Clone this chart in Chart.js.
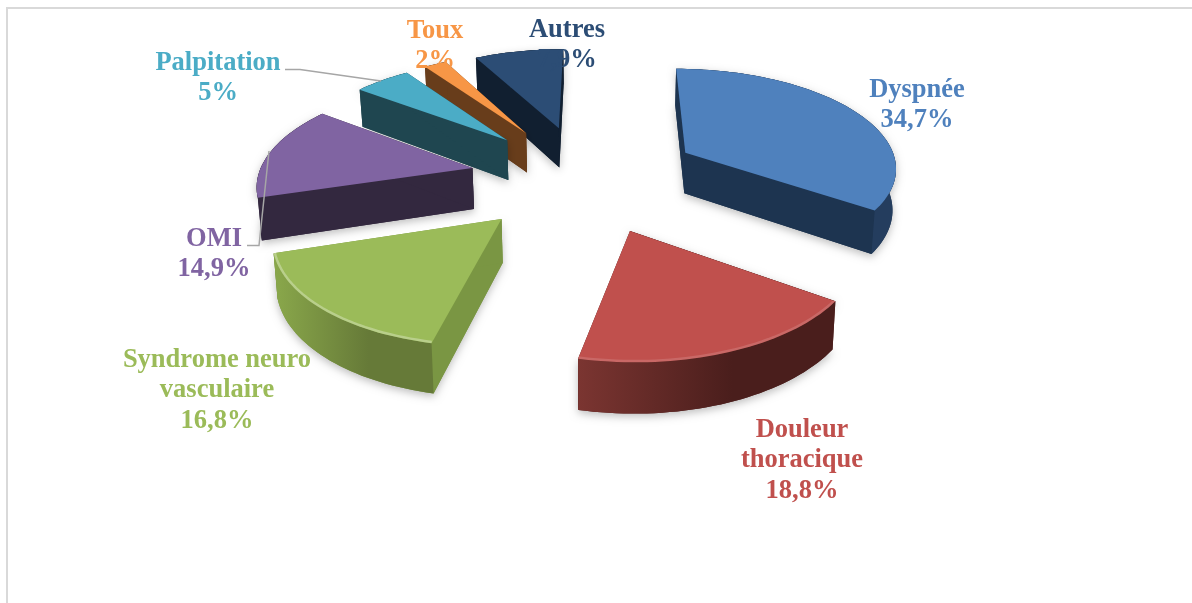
<!DOCTYPE html>
<html>
<head>
<meta charset="utf-8">
<title>Répartition des symptômes</title>
<style>
  html, body { margin: 0; padding: 0; background: #fff; overflow: hidden; }
  #frame { position: absolute; left: 6px; top: 7px; width: 1186px; height: 596px;
           border-top: 2px solid #d9d9d9; border-left: 2px solid #d9d9d9; box-sizing: border-box; }
  #chart { position: absolute; left: 0; top: 0; }
</style>
</head>
<body>
<div id="frame"></div>
<canvas id="chart" width="1192" height="603"></canvas>
<script src="https://cdn.jsdelivr.net/npm/chart.js@4"></script>
<script>
const categories = ['Dyspnée', 'Douleur thoracique', 'Syndrome neuro vasculaire', 'OMI', 'Palpitation', 'Toux', 'Autres'];
const percents = [34.7, 18.8, 16.8, 14.9, 5, 2, 7.9];

// how the long names wrap in the labels
const labelLines = [['Dyspnée'], ['Douleur', 'thoracique'], ['Syndrome neuro', 'vasculaire'], ['OMI'], ['Palpitation'], ['Toux'], ['Autres']];

// slice colours
const topColors = ['#4f81bd', '#c0504d', '#9bbb59', '#8064a2', '#4bacc6', '#f79646', '#2c4d75'];
const sideColors = ['#1d3450', '#4e1f1d', '#7a9643', '#33283f', '#1f4650', '#683d1b', '#111f30'];
const wallLeft = ['#1d3450', '#7b3531', '#8aa84b', '#33283f', '#1f4650', '#683d1b', '#111f30'];
const wallRight = ['#243d5e', '#4a1e1c', '#667a38', '#33283f', '#1f4650', '#683d1b', '#111f30'];
const rimLight = [0, 0.14, 0.3, 0, 0, 0, 0];

// explosion of each slice, and how far it leans off its middle angle (degrees)
const explode = [110, 115, 117, 115, 108, 106, 100];
const explodeLean = [5, 0, 0, -4, -5.5, -5, -3];

// label anchors (centre x, first line y)
const labelX = [917, 802, 217, 214, 218, 435, 567];
const labelY = [90, 430, 360, 239, 63, 31, 30];
const lineGap = 30.5;

// camera for the tilted look
const viewDist = 1600;
const horizon = 802;
const vanishX = 14;
const thickness = 41.5;
const stretchX = 1.045;
const stretchY = 0.97;
const sideLean = 0.012;

function project(el, px, py) {
  const s = viewDist / (viewDist - py);
  return {
    x: el.x + vanishX + (px - vanishX) * s,
    y: el.y - horizon + horizon * s,
    s: s,
    nadir: el.x + vanishX
  };
}

// outline of a slice in the flat pie plane, from the arc element chart.js laid out
function sliceGeometry(el, i) {
  const { startAngle, endAngle, outerRadius } = el.getProps(['startAngle', 'endAngle', 'outerRadius'], true);
  const mid = (startAngle + endAngle) / 2 + explodeLean[i] * Math.PI / 180;
  const off = el.options.offset;
  const ox = Math.cos(mid) * off;
  const oy = Math.sin(mid) * off;
  const arc = [];
  const steps = Math.max(4, Math.ceil((endAngle - startAngle) / 0.03));
  for (let k = 0; k <= steps; k++) {
    const a = startAngle + (endAngle - startAngle) * k / steps;
    const p = project(el, ox + Math.cos(a) * outerRadius * stretchX, oy + Math.sin(a) * outerRadius * stretchY);
    p.front = Math.sin(a) > 0.12;
    arc.push(p);
  }
  return { apex: project(el, ox, oy), arc: arc, depth: oy };
}

function poly(ctx, pts) {
  ctx.beginPath();
  pts.forEach((p, k) => k ? ctx.lineTo(p.x, p.y) : ctx.moveTo(p.x, p.y));
  ctx.closePath();
}

function lowered(p) {
  return { x: p.x - (p.x - p.nadir) * sideLean, y: p.y + thickness * p.s };
}

function drawSlice(ctx, g, i) {
  const last = g.arc[g.arc.length - 1];
  const first = g.arc[0];
  const startWall = [g.apex, first, lowered(first), lowered(g.apex)];
  const endWall = [g.apex, last, lowered(last), lowered(g.apex)];
  const outerWall = g.arc.concat(g.arc.slice().reverse().map(lowered));
  const topFace = [g.apex].concat(g.arc);

  // soft shadow first, once for the whole solid
  ctx.save();
  ctx.shadowColor = 'rgba(0,0,0,0.26)';
  ctx.shadowBlur = 9;
  ctx.shadowOffsetY = 3;
  ctx.fillStyle = sideColors[i];
  ctx.beginPath();
  [startWall, endWall, outerWall, topFace].forEach(face => {
    face.forEach((p, k) => k ? ctx.lineTo(p.x, p.y) : ctx.moveTo(p.x, p.y));
    ctx.closePath();
  });
  ctx.fill('nonzero');
  ctx.restore();

  ctx.fillStyle = sideColors[i];
  poly(ctx, startWall);
  ctx.fill();
  poly(ctx, endWall);
  ctx.fill();

  // outer curved wall, shaded left to right
  const xs = g.arc.map(p => p.x);
  const grad = ctx.createLinearGradient(Math.min(...xs), 0, Math.max(...xs), 0);
  grad.addColorStop(0, wallLeft[i]);
  grad.addColorStop(0.6, wallRight[i]);
  grad.addColorStop(1, wallRight[i]);
  ctx.fillStyle = grad;
  poly(ctx, outerWall);
  ctx.fill();

  // top face
  ctx.fillStyle = topColors[i];
  poly(ctx, topFace);
  ctx.fill();

  // bevel along the front of the rim
  if (rimLight[i] > 0) {
    ctx.save();
    poly(ctx, topFace);
    ctx.clip();
    ctx.strokeStyle = 'rgba(255,255,255,' + rimLight[i] + ')';
    ctx.lineWidth = 5;
    ctx.beginPath();
    g.arc.filter(p => p.front).forEach((p, k) => k ? ctx.lineTo(p.x, p.y) : ctx.moveTo(p.x, p.y));
    ctx.stroke();
    ctx.restore();
  }
}

function drawLeaders(ctx) {
  ctx.strokeStyle = '#a6a6a6';
  ctx.lineWidth = 1.5;
  ctx.beginPath();
  ctx.moveTo(285, 69.5);
  ctx.lineTo(300, 69.5);
  ctx.lineTo(381, 81);
  ctx.moveTo(247, 245.5);
  ctx.lineTo(259, 245.5);
  ctx.lineTo(269, 151);
  ctx.stroke();
}

function percentText(v) {
  return String(v).replace('.', ',') + '%';
}

function drawLabels(ctx) {
  ctx.font = 'bold 26.5px "Liberation Serif"';
  ctx.textAlign = 'center';
  ctx.textBaseline = 'middle';
  categories.forEach((name, i) => {
    const lines = labelLines[i].concat(percentText(percents[i]));
    ctx.fillStyle = topColors[i];
    lines.forEach((line, k) => ctx.fillText(line, labelX[i], labelY[i] + k * lineGap));
  });
}

const tiltedPie = {
  id: 'tiltedPie',
  beforeDatasetsDraw(chart) {
    const ctx = chart.ctx;
    const slices = chart.getDatasetMeta(0).data.map((el, i) => ({ i: i, g: sliceGeometry(el, i) }));
    slices.sort((a, b) => a.g.depth - b.g.depth);
    slices.forEach(s => drawSlice(ctx, s.g, s.i));
    drawLeaders(ctx);
    drawLabels(ctx);
    return false;
  }
};

new Chart(document.getElementById('chart').getContext('2d'), {
  type: 'pie',
  data: {
    labels: categories,
    datasets: [{
      data: percents,
      backgroundColor: topColors,
      borderWidth: 0,
      offset: explode,
      radius: 204
    }]
  },
  options: {
    responsive: false,
    animation: false,
    rotation: 0,
    layout: { padding: { left: 0, right: 20, top: 0, bottom: 256 } },
    plugins: { legend: { display: false }, tooltip: { enabled: false } }
  },
  plugins: [tiltedPie]
});
</script>
</body>
</html>
